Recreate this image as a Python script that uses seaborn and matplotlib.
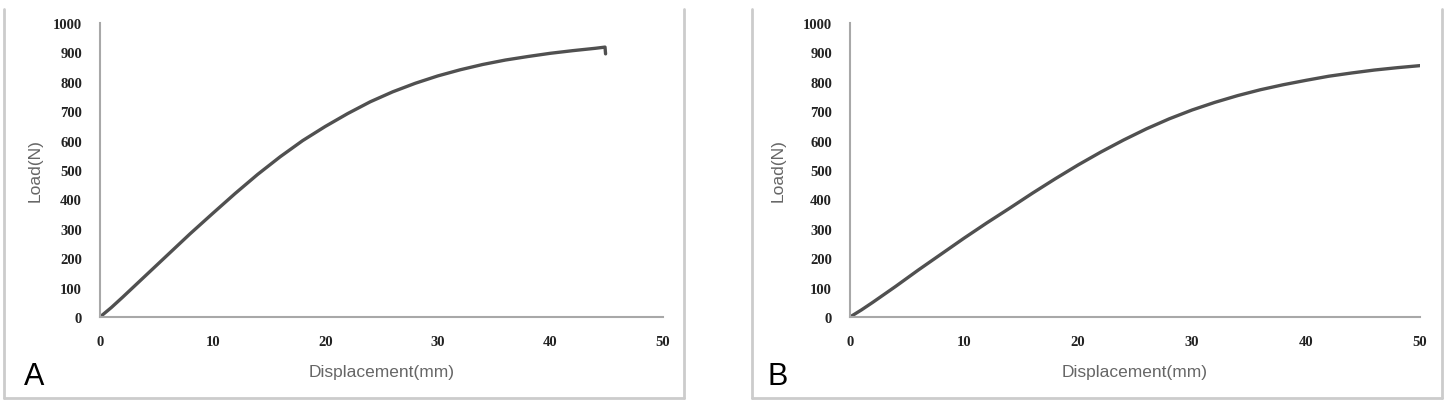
import matplotlib
matplotlib.use('Agg')
import matplotlib.pyplot as plt
import numpy as np
import pandas as pd
import seaborn as sns
from matplotlib.lines import Line2D

# panel A: load-displacement curve (ends with a small drop at failure)
disp_a = [0, 1, 2, 3, 4, 5, 6, 7, 8, 10, 12, 14, 16, 18, 20, 22, 24, 26, 28,
          30, 32, 34, 36, 38, 40, 42, 44, 44.85, 44.9]
load_a = [0, 32, 67, 103, 139, 175, 211, 247, 283, 352, 420, 485, 545, 600,
          648, 692, 732, 766, 795, 820, 841, 859, 874, 886, 897, 906, 914, 918, 895]

# panel B
disp_b = [0, 1, 2, 3, 4, 5, 6, 8, 10, 12, 14, 16, 18, 20, 22, 24, 26, 28,
          30, 32, 34, 36, 38, 40, 42, 44, 46, 48, 50]
load_b = [0, 24, 50, 77, 104, 132, 160, 214, 268, 320, 370, 421, 470, 517,
          561, 602, 640, 674, 704, 730, 753, 773, 790, 805, 819, 830, 840, 848, 855]

x_ticks = [0, 10, 20, 30, 40, 50]
y_ticks = list(range(0, 1001, 100))

sns.set_style('white')
plt.rcParams['font.family'] = ['Liberation Sans', 'DejaVu Sans']

fig = plt.figure(figsize=(14.49, 4.02), dpi=100)

axes_pos = [[100 / 1449, 1 - 318 / 402, 563 / 1449, 294 / 402],
            [850 / 1449, 1 - 318 / 402, 570 / 1449, 294 / 402]]
curves = [(disp_a, load_a, 'A', -0.102, -0.135),
          (disp_b, load_b, 'B', -0.113, -0.145)]

for pos, (xs, ys, tag, ylab_x, tag_x) in zip(axes_pos, curves):
    ax = fig.add_axes(pos)
    df = pd.DataFrame({'Displacement': xs, 'Load': ys})
    sns.lineplot(data=df, x='Displacement', y='Load', ax=ax, sort=False,
                 color='#505050', linewidth=2.4)
    ax.set_xlim(0, 50)
    ax.set_ylim(0, 1000)
    ax.set_xticks(x_ticks)
    ax.set_yticks(y_ticks)
    for s in ['top', 'right']:
        ax.spines[s].set_visible(False)
    for s in ['left', 'bottom']:
        ax.spines[s].set_color('#a8a8a8')
        ax.spines[s].set_linewidth(1.5)
    ax.tick_params(axis='both', direction='out', length=4, width=1.2,
                   color='#a8a8a8', labelcolor='#222222')
    ax.tick_params(axis='x', pad=9)
    ax.tick_params(axis='y', pad=9)
    for lab in ax.get_xticklabels() + ax.get_yticklabels():
        lab.set_fontfamily('Liberation Serif')
        lab.set_fontweight('bold')
        lab.set_fontsize(10.5)
    ax.set_xlabel('Displacement(mm)', color='#666666', fontsize=12.5)
    ax.set_ylabel('Load(N)', color='#666666', fontsize=12.5)
    ax.xaxis.set_label_coords(0.5, -0.16)
    ax.yaxis.set_label_coords(ylab_x, 0.5)
    ax.text(tag_x, -0.228, tag, transform=ax.transAxes,
            fontsize=22, color='black', va='baseline', ha='left')

# light gray frames around each panel (top edge cut off)
frame_col = '#cccccc'
for left, right in [(4, 684), (752, 1442)]:
    x0, x1 = left / 1449, right / 1449
    y0, y1 = 1 - 399 / 402, 1 - 10 / 402
    fig.add_artist(Line2D([x0, x0], [y0, y1], color=frame_col, lw=2))
    fig.add_artist(Line2D([x1, x1], [y0, y1], color=frame_col, lw=2))
    fig.add_artist(Line2D([x0, x1], [y0, y0], color=frame_col, lw=2))

fig.savefig('out.png', dpi=100)
